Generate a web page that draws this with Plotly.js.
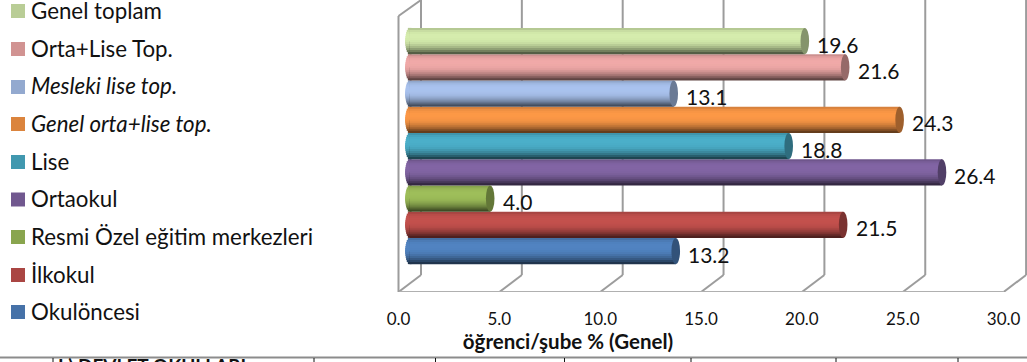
<!DOCTYPE html>
<html>
<head>
<meta charset="utf-8">
<script src="https://cdn.plot.ly/plotly-3.0.1.min.js"></script>
<style>html,body{margin:0;padding:0;background:#fff;overflow:hidden}#c{width:1027px;height:362px}</style>
</head>
<body>
<div id="c"></div>
<script>
// ---- data (bottom to top) ----
const categories = ["Okulöncesi","İlkokul","Resmi Özel eğitim merkezleri","Ortaokul","Lise","Genel orta+lise top.","Mesleki lise top.","Orta+Lise Top.","Genel toplam"];
const values = [13.2,21.5,4.0,26.4,18.8,24.3,13.1,21.6,19.6];
const italicCategories = ["Genel orta+lise top.","Mesleki lise top."];
const xTicks = [0,5,10,15,20,25,30];
const swatchColors = ["#4672A8","#AA4643","#89A54E","#71588F","#4198AF","#DB843D","#93A9CF","#D19392","#B9CD96"];
const tableColumnEdges = [53,314,435.5,564.5,691,836,958];

// ---- geometry of the pseudo-3D box, in page pixels ----
const W = 1027, H = 362, plotBottom = 292;
const pxPerUnit = 20.17;
const frontZero = 398.5, midZero = 409.5;
const domainLeft = 109;
const rangeFor = zero => [(domainLeft - zero)/pxPerUnit, (W - zero)/pxPerUnit];
const yZero = 251, yUnit = 26.25;
const pyToY = py => (yZero - py)/yUnit;
const depth = (421 - frontZero)/pxPerUnit;
const floorFront = pyToY(292), floorBack = pyToY(275), wallTop = pyToY(16), plotTop = pyToY(0);
const capRx = 4.3/pxPerUnit;

const shade = (hex, f) => {
  const n = parseInt(hex.slice(1),16);
  const c = [n>>16, (n>>8)&255, n&255].map(v => Math.min(255, Math.round(v*f)));
  return `rgb(${c[0]},${c[1]},${c[2]})`;
};

// vertical lighting profile of a cylinder, top to bottom
const profile = [0.98,1.08,1.13,1.15,1.15,1.14,1.12,1.08,1.0,0.9,0.78,0.62,0.46];
const bandH = 1/profile.length;

// each band reaches from its outer edge to the axis of the cylinder; painting
// the outermost first leaves no seams when bar edges snap to whole pixels
const bands = profile.map((f,b) => {
  const center = 0.5 - (b+0.5)*bandH;
  const lo = center > 0 ? 0 : center - bandH/2;
  const hi = center > 0 ? center + bandH/2 : 0;
  const isMiddle = Math.abs(center) < bandH/2;
  return {f, center,
    lo: isMiddle ? center - bandH/2 : lo,
    hi: isMiddle ? center + bandH/2 : hi,
    dx: capRx*Math.sqrt(Math.max(0, 1 - 4*center*center))};
}).sort((a,b) => Math.abs(b.center) - Math.abs(a.center));

const bandTrace = (b, x, base, name) => ({
  type:'bar', orientation:'h', xaxis:'x2', yaxis:'y', y:categories, x, base, name,
  width:categories.map(()=>b.hi - b.lo),
  offset:categories.map(()=>b.lo),
  marker:{color:swatchColors.map(c=>shade(c,b.f)), line:{width:0}},
  showlegend:false, hoverinfo:'skip'
});
const overlap = 2/pxPerUnit;
const traces = [];
bands.forEach((b,i) => traces.push(bandTrace(b, categories.map(()=>b.dx+overlap), categories.map(()=>-b.dx), 'end'+i)));
bands.forEach((b,i) => traces.push(bandTrace(b, values, categories.map(()=>0), 'band'+i)));

// ---- frame ----
const gridLine = {color:'#9c9c9c', width:2};
const floorLine = {color:'#b0b0b0', width:2};
const seg = (x0,y0,x1,y1,line) => ({type:'line',xref:'x',yref:'y',layer:'below',x0,y0,x1,y1,line});
const shapes = [];
xTicks.forEach(t => {
  shapes.push(seg(t+depth,floorBack,t+depth,plotTop,gridLine));
  shapes.push(seg(t,floorFront,t+depth,floorBack,gridLine));
});
shapes.push(seg(xTicks[0],floorFront,xTicks[xTicks.length-1],floorFront,floorLine));
shapes.push(seg(xTicks[0],floorFront,xTicks[0],wallTop,gridLine));
shapes.push(seg(xTicks[0],wallTop,xTicks[0]+depth,plotTop,gridLine));

// ---- cylinder end caps ----
values.forEach((v,i) => shapes.push({
  type:'circle',xref:'x2',yref:'y',layer:'above',
  x0:v-capRx,x1:v+capRx,y0:i-0.5,y1:i+0.5,
  fillcolor:shade(swatchColors[i],0.72),line:{width:0}
}));

// ---- legend drawn by position ----
const legendRows = [312,275,237,199.5,162,124,87,49,11];
const fy = py => (plotBottom - py)/plotBottom;
const annotations = [];
categories.forEach((c,i) => {
  const py = legendRows[i];
  shapes.push({type:'rect',xref:'paper',yref:'paper',x0:11/W,x1:25/W,y0:fy(py+7),y1:fy(py-7),fillcolor:swatchColors[i],line:{width:0}});
  annotations.push({xref:'paper',yref:'paper',x:29/W,y:fy(py-1),xanchor:'left',yanchor:'middle',showarrow:false,
    text:italicCategories.includes(c)?`<i>${c}</i>`:c,font:{family:'Lato',size:22.3,color:'#111'}});
});

// ---- data labels ----
values.forEach((v,i) => annotations.push({
  xref:'x2',yref:'y',x:v,y:i,xanchor:'left',yanchor:'middle',xshift:10.5,yshift:-3,showarrow:false,
  text:v.toFixed(1),font:{family:'Lato',size:21,color:'#111'}
}));

// ---- strip of the table below the chart ----
shapes.push({type:'line',xref:'paper',yref:'paper',x0:0,x1:1,y0:fy(357.5),y1:fy(357.5),line:{color:'#8c8c8c',width:2}});
tableColumnEdges.forEach(x => shapes.push({type:'line',xref:'paper',yref:'paper',x0:x/W,x1:x/W,y0:fy(358),y1:fy(362),line:{color:'#111',width:1}}));
annotations.push({xref:'paper',yref:'paper',x:56/W,y:fy(352),xanchor:'left',yanchor:'top',showarrow:false,
  text:'<b>I.) DEVLET OKULLARI</b>',font:{family:'Lato',size:19,color:'#111'}});

const layout = {
  width:W,height:H,margin:{l:0,r:0,t:0,b:H-plotBottom,pad:0},
  paper_bgcolor:'#fff',plot_bgcolor:'rgba(0,0,0,0)',
  barmode:'overlay',showlegend:false,
  font:{family:'Lato',color:'#111'},
  xaxis:{domain:[domainLeft/W,1],range:rangeFor(frontZero),tickmode:'array',tickvals:xTicks,
    ticktext:xTicks.map(t=>t.toFixed(1)),showgrid:false,zeroline:false,showline:false,
    ticks:'outside',ticklen:12,tickcolor:'rgba(0,0,0,0)',tickfont:{family:'Lato',size:17,color:'#111'},
    title:{text:'<b>öğrenci/şube % (Genel)</b>',font:{family:'Lato',size:20.5,color:'#111'},standoff:3},automargin:false},
  xaxis2:{domain:[domainLeft/W,1],range:rangeFor(midZero),overlaying:'x',visible:false,anchor:'y'},
  yaxis:{type:'category',categoryorder:'array',categoryarray:categories,range:[pyToY(plotBottom),plotTop],visible:false,fixedrange:true},
  shapes,annotations
};
Plotly.newPlot('c',traces,layout,{displayModeBar:false,staticPlot:true});
</script>
</body>
</html>
